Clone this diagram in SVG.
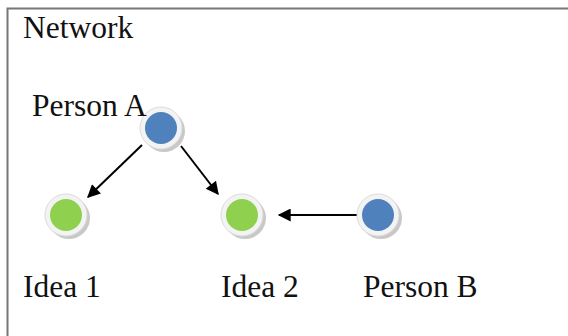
<svg xmlns="http://www.w3.org/2000/svg" width="568" height="336" viewBox="0 0 568 336">
<style>
text{font-family:"Liberation Serif","Times New Roman",serif;font-size:31.5px;fill:#111}
.ring{fill:#f3f3f3;stroke:#dcdcdc;stroke-width:1}
.shadow{fill:#9a9a9a;opacity:0.55}
.blue{fill:#4f81bd}
.green{fill:#8fd14f}
</style>
<defs>
<marker id="arr2" viewBox="0 0 10 10" refX="9" refY="5" markerWidth="16" markerHeight="13" markerUnits="userSpaceOnUse" orient="auto">
<path d="M0,0 L10,5 L0,10 z" fill="#000"/>
</marker>
</defs>
<rect width="568" height="336" fill="#fff"/>
<path d="M7.5,336 V8.5 H568" fill="none" stroke="#777" stroke-width="2"/>
<text x="23" y="38">Network</text>
<g id="connectors">
<line x1="142" y1="145" x2="88" y2="197" stroke="#000" stroke-width="2" marker-end="url(#arr2)"/>
<line x1="181" y1="146" x2="218" y2="194" stroke="#000" stroke-width="2" marker-end="url(#arr2)"/>
<line x1="358" y1="215" x2="279" y2="215" stroke="#000" stroke-width="2" marker-end="url(#arr2)"/>
</g>
<g id="personA">
<circle class="shadow" cx="164" cy="131" r="21"/>
<circle class="ring" cx="161" cy="128" r="21"/>
<circle class="blue" cx="161" cy="128" r="16"/>
<text x="32" y="116">Person A</text>
</g>
<g id="idea1">
<circle class="shadow" cx="69" cy="218" r="21"/>
<circle class="ring" cx="66" cy="215" r="21"/>
<circle class="green" cx="66" cy="215" r="16"/>
<text x="23" y="297">Idea 1</text>
</g>
<g id="idea2">
<circle class="shadow" cx="245" cy="218" r="21"/>
<circle class="ring" cx="242" cy="215" r="21"/>
<circle class="green" cx="242" cy="215" r="16"/>
<text x="221" y="297">Idea 2</text>
</g>
<g id="personB">
<circle class="shadow" cx="381" cy="218" r="21"/>
<circle class="ring" cx="378" cy="215" r="21"/>
<circle class="blue" cx="378" cy="215" r="16"/>
<text x="363" y="297">Person B</text>
</g>
</svg>
